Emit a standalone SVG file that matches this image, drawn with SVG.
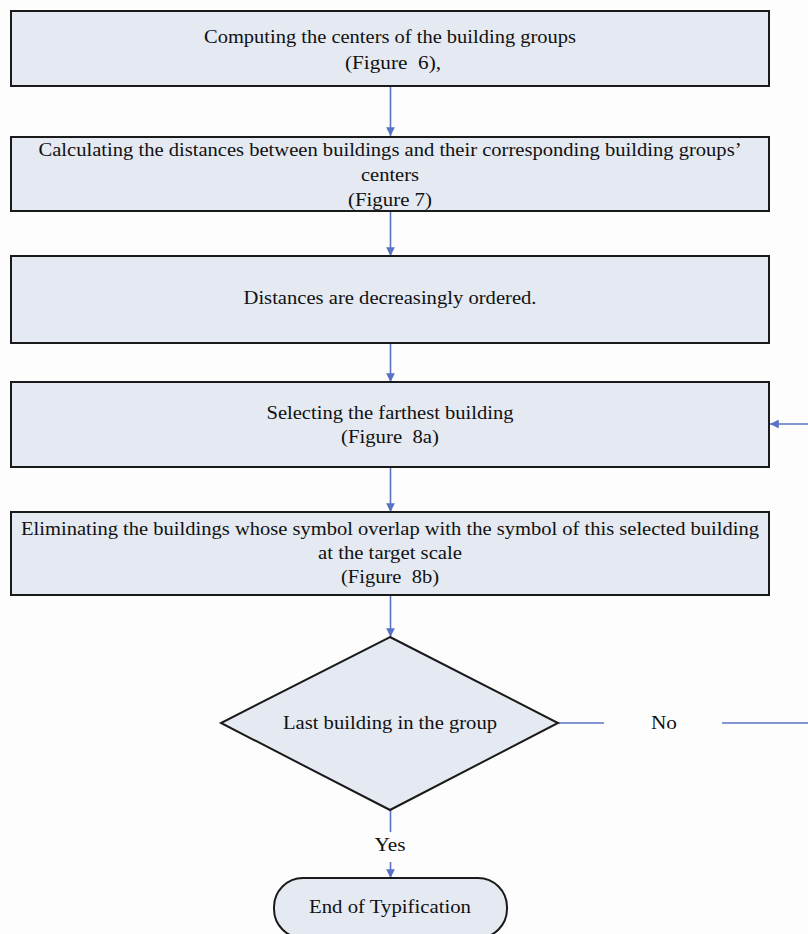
<svg xmlns="http://www.w3.org/2000/svg" width="808" height="934" viewBox="0 0 808 934">
<defs>
<style>
.box{fill:#e4e9f2;stroke:#1a1a1a;stroke-width:2}
.t{font-family:"Liberation Serif","Times New Roman",serif;font-size:19.5px;fill:#111;text-anchor:middle}
.c{stroke:#5a72c4;stroke-width:1.6;fill:none}
</style>
<marker id="ah" viewBox="0 0 10 10" refX="10" refY="5" markerWidth="5.5" markerHeight="5.5" orient="auto" markerUnits="strokeWidth">
<path d="M0,0 L10,5 L0,10 Z" fill="#5a72c4"/>
</marker>
</defs>
<rect width="808" height="934" fill="#fdfdfd"/>
<g id="connectors">
<line class="c" x1="390.5" y1="86" x2="390.5" y2="136" marker-end="url(#ah)"/>
<line class="c" x1="390.5" y1="211" x2="390.5" y2="256" marker-end="url(#ah)"/>
<line class="c" x1="390.5" y1="343" x2="390.5" y2="382" marker-end="url(#ah)"/>
<line class="c" x1="390.5" y1="467" x2="390.5" y2="512" marker-end="url(#ah)"/>
<line class="c" x1="390.5" y1="595" x2="390.5" y2="637" marker-end="url(#ah)"/>
<polyline class="c" points="558,723 604,723"/>
<polyline class="c" points="722,723 808,723"/>
<line class="c" x1="808" y1="424" x2="770" y2="424" marker-end="url(#ah)"/>
<line class="c" x1="390.5" y1="810" x2="390.5" y2="832"/>
<line class="c" x1="390.5" y1="862" x2="390.5" y2="878" marker-end="url(#ah)"/>
<text class="t" x="664" y="729" textLength="26" lengthAdjust="spacingAndGlyphs">No</text>
<text class="t" x="390" y="851" textLength="31" lengthAdjust="spacingAndGlyphs">Yes</text>
</g>
<g id="n1">
<rect class="box" x="11" y="11" width="758" height="75"/>
<text class="t" x="390" y="43" textLength="372" lengthAdjust="spacingAndGlyphs">Computing the centers of the building groups</text>
<text class="t" x="393" y="69" textLength="96" lengthAdjust="spacingAndGlyphs" xml:space="preserve">(Figure  6),</text>
</g>
<g id="n2">
<rect class="box" x="11" y="137" width="758" height="74"/>
<text class="t" x="390" y="156" textLength="703" lengthAdjust="spacingAndGlyphs">Calculating the distances between buildings and their corresponding building groups’</text>
<text class="t" x="390" y="181" textLength="58" lengthAdjust="spacingAndGlyphs">centers</text>
<text class="t" x="390" y="206" textLength="84" lengthAdjust="spacingAndGlyphs">(Figure 7)</text>
</g>
<g id="n3">
<rect class="box" x="11" y="256" width="758" height="87"/>
<text class="t" x="390" y="304" textLength="293" lengthAdjust="spacingAndGlyphs">Distances are decreasingly ordered.</text>
</g>
<g id="n4">
<rect class="box" x="11" y="382" width="758" height="85"/>
<text class="t" x="390" y="419" textLength="247" lengthAdjust="spacingAndGlyphs">Selecting the farthest building</text>
<text class="t" x="390" y="443" textLength="98" lengthAdjust="spacingAndGlyphs" xml:space="preserve">(Figure  8a)</text>
</g>
<g id="n5">
<rect class="box" x="11" y="512" width="758" height="83"/>
<text class="t" x="390" y="535" textLength="738" lengthAdjust="spacingAndGlyphs">Eliminating the buildings whose symbol overlap with the symbol of this selected building</text>
<text class="t" x="390" y="559" textLength="144" lengthAdjust="spacingAndGlyphs">at the target scale</text>
<text class="t" x="390" y="583" textLength="98" lengthAdjust="spacingAndGlyphs" xml:space="preserve">(Figure  8b)</text>
</g>
<g id="decision">
<polygon class="box" points="390,637 558,723 390,810 221,723"/>
<text class="t" x="390" y="729" textLength="214" lengthAdjust="spacingAndGlyphs">Last building in the group</text>
</g>
<g id="end">
<rect class="box" x="274" y="878" width="233" height="60" rx="29" ry="29"/>
<text class="t" x="390" y="913" textLength="162" lengthAdjust="spacingAndGlyphs">End of Typification</text>
</g>
</svg>
